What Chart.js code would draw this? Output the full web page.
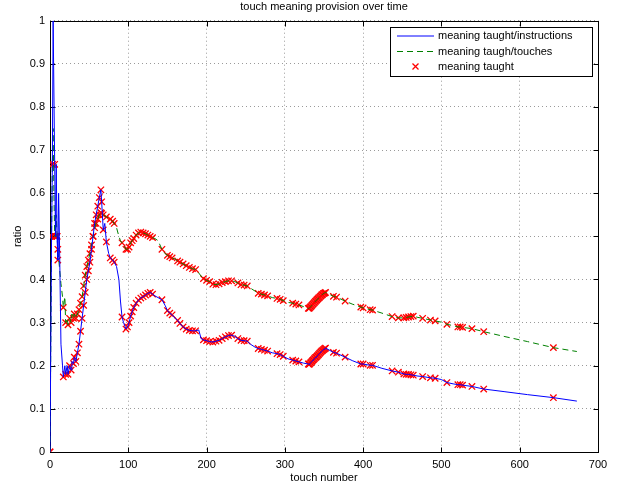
<!DOCTYPE html>
<html>
<head>
<meta charset="utf-8">
<script src="https://cdn.jsdelivr.net/npm/chart.js@4"></script>
<style>
  html, body { margin: 0; padding: 0; background: #fff; }
  #wrap { width: 624px; height: 488px; }
</style>
</head>
<body>
<div id="wrap"><canvas id="ratioChart" width="624" height="488"></canvas></div>
<script>
// touch number (x) and the two ratios
const touchNumber = [
  0, 2, 3, 4, 5, 6, 7, 8, 9, 10, 11, 12, 14, 16, 17, 19, 20, 22, 23, 25, 27, 28, 30, 31,
  33, 35, 37, 39, 41, 43, 45, 47, 49, 51, 53, 55, 57, 59, 61, 63, 65,
  66, 68, 70, 72, 75, 77, 80, 82, 85, 88, 90, 92, 94, 97, 99, 101, 103, 105, 107, 110,
  113, 116, 119, 122, 125, 128, 131, 134, 138, 143, 147, 150, 153, 156, 160, 163, 166,
  170, 174, 178, 182, 186, 190, 193, 196, 200, 204, 208, 212, 216, 220, 224, 228, 232,
  236, 240, 244, 248, 252, 256, 262, 266, 270, 274, 278, 284, 290, 294, 298, 304, 310,
  314, 318, 324,
  330, 331, 332, 333, 334, 335, 336, 337, 338, 339, 340, 341, 342, 343, 344, 345, 346, 347, 348, 349, 350, 351, 352,
  362, 366, 377, 386, 397, 400, 409, 412, 424, 437, 445, 452, 455, 458, 461, 464, 470,
  476, 486, 492, 500, 507, 515, 521, 524, 527, 539, 554, 580, 610, 643, 673
];
const perInstruction = [
  0, 0.5, 0.667, 1.0, 1.0, 0.667, 0.5, 0.667, 0.5, 0.445, 0.6, 0.5, 0.25, 0.2, 0.174, 0.2, 0.18, 0.2, 0.18, 0.2, 0.19, 0.21, 0.205, 0.22,
  0.21, 0.23, 0.25, 0.28, 0.31, 0.34, 0.37, 0.40, 0.42, 0.44, 0.47, 0.5, 0.53, 0.55, 0.57, 0.59, 0.608,
  0.58, 0.515, 0.53, 0.487, 0.46, 0.45, 0.445, 0.44, 0.43, 0.40, 0.35, 0.313, 0.30, 0.285, 0.29, 0.3, 0.315, 0.325, 0.335, 0.345,
  0.352, 0.357, 0.36, 0.364, 0.368, 0.37, 0.366, 0.362, 0.358, 0.353, 0.34, 0.328, 0.322, 0.318, 0.31, 0.305, 0.298,
  0.29, 0.285, 0.282, 0.281, 0.281, 0.283, 0.263, 0.26, 0.258, 0.256, 0.255, 0.257, 0.259, 0.263, 0.267, 0.27, 0.271,
  0.268, 0.263, 0.259, 0.258, 0.257, 0.25, 0.243, 0.24, 0.238, 0.236, 0.234, 0.23, 0.228, 0.226, 0.222, 0.216, 0.213,
  0.211, 0.209, 0.206,
  0.204, 0.203, 0.205, 0.207, 0.209, 0.211, 0.213, 0.215, 0.217, 0.219, 0.22, 0.222, 0.224, 0.226, 0.228, 0.23, 0.232, 0.234, 0.235, 0.237, 0.238, 0.24, 0.241,
  0.231, 0.229, 0.22, 0.212, 0.204, 0.204, 0.201, 0.201, 0.194, 0.188, 0.185, 0.181, 0.18, 0.18, 0.179, 0.178, 0.176,
  0.175, 0.172, 0.171, 0.168, 0.161, 0.158, 0.156, 0.156, 0.155, 0.152, 0.146, 0.14, 0.133, 0.126, 0.118
];
const perTouch = [
  0, 0.5, 0.667, 0.75, 0.6, 0.5, 0.5, 0.55, 0.5, 0.47, 0.45, 0.43, 0.39, 0.36, 0.335, 0.36, 0.3, 0.31, 0.295, 0.31, 0.30, 0.32, 0.31, 0.32,
  0.31, 0.32, 0.33, 0.345, 0.36, 0.385, 0.41, 0.43, 0.445, 0.46, 0.48, 0.5, 0.52, 0.53, 0.54, 0.55, 0.555,
  0.553, 0.55, 0.548, 0.545, 0.543, 0.54, 0.535, 0.53, 0.52, 0.50, 0.49, 0.485, 0.48, 0.47, 0.47, 0.475, 0.485, 0.49, 0.495, 0.503,
  0.508, 0.51, 0.508, 0.506, 0.503, 0.5, 0.497, 0.495, 0.49, 0.47, 0.46, 0.456, 0.453, 0.45, 0.447, 0.443, 0.44,
  0.436, 0.432, 0.428, 0.425, 0.423, 0.415, 0.408, 0.402, 0.398, 0.395, 0.389, 0.388, 0.39, 0.393, 0.395, 0.397, 0.397,
  0.395, 0.392, 0.388, 0.387, 0.385, 0.38, 0.373, 0.368, 0.366, 0.364, 0.362, 0.358, 0.356, 0.354, 0.351, 0.347, 0.345,
  0.343, 0.341, 0.337,
  0.333, 0.333, 0.335, 0.337, 0.339, 0.341, 0.343, 0.345, 0.347, 0.349, 0.351, 0.353, 0.355, 0.357, 0.358, 0.36, 0.362, 0.364, 0.365, 0.367, 0.368, 0.369, 0.37,
  0.361, 0.359, 0.35, 0.343, 0.336, 0.334, 0.33, 0.329, 0.322, 0.314, 0.311, 0.311, 0.312, 0.313, 0.314, 0.315, 0.312,
  0.31, 0.306, 0.304, 0.301, 0.296, 0.293, 0.29, 0.29, 0.289, 0.286, 0.279, 0.268, 0.256, 0.242, 0.233
];
// 1 where meaning was taught at that touch (red x on both curves)
const taught = [
  1, 1, 1, 0, 0, 1, 1, 0, 1, 1, 0, 0, 0, 0, 1, 0, 1, 0, 1, 1, 1, 0, 1, 1,
  1, 1, 1, 1, 1, 1, 1, 1, 1, 1, 1, 1, 1, 1, 1, 1, 1,
  1, 1, 0, 1, 0, 1, 1, 1, 0, 0, 0, 1, 0, 1, 1, 1, 1, 1, 1, 1,
  1, 1, 1, 1, 1, 1, 1, 0, 0, 1, 0, 1, 1, 1, 0, 1, 1,
  1, 1, 1, 1, 1, 0, 0, 1, 1, 1, 1, 1, 1, 1, 1, 1, 1,
  0, 1, 1, 1, 1, 0, 0, 1, 1, 1, 1, 0, 1, 1, 1, 0, 1,
  1, 1, 0,
  1, 1, 1, 1, 1, 1, 1, 1, 1, 1, 1, 1, 1, 1, 1, 1, 1, 1, 1, 1, 1, 1, 1,
  1, 1, 1, 0, 1, 1, 1, 1, 0, 1, 1, 1, 1, 1, 1, 1, 0,
  1, 1, 1, 0, 1, 0, 1, 1, 1, 1, 1, 0, 0, 1, 0
];

const seriesNames = ['meaning taught/instructions', 'meaning taugh/touches', 'meaning taught'];
const chartTitle = 'touch meaning provision over time';
const xLabel = 'touch number';
const yLabel = 'ratio';

document.addEventListener('DOMContentLoaded', function() {
    Chart.defaults.font.family = '"Liberation Sans", Arial, sans-serif';
    Chart.defaults.font.size = 11;
    Chart.defaults.color = '#000';

    const instrPoints = touchNumber.map((x, i) => ({ x: x, y: perInstruction[i] }));
    const touchPoints = touchNumber.map((x, i) => ({ x: x, y: perTouch[i] }));
    const taughtPoints = [];
    touchNumber.forEach((x, i) => {
        if (taught[i]) {
            taughtPoints.push({ x: x, y: perInstruction[i] });
            taughtPoints.push({ x: x, y: perTouch[i] });
        }
    });

    //ramka osi + legenda w stylu matlaba
    const matlabFrame = {
        id: 'matlabFrame',
        beforeDatasetsDraw(chart) {
            const { ctx, chartArea: a, scales } = chart;
            const L = Math.round(a.left) + 0.5, R = Math.round(a.right) + 0.5;
            const T = Math.round(a.top) + 0.5, B = Math.round(a.bottom) + 0.5;
            ctx.save();
            ctx.strokeStyle = '#000';
            ctx.lineWidth = 1;
            ctx.beginPath();
            scales.x.ticks.forEach(t => {
                const px = Math.round(scales.x.getPixelForValue(t.value)) + 0.5;
                ctx.moveTo(px, B); ctx.lineTo(px, B - 5);
                ctx.moveTo(px, T); ctx.lineTo(px, T + 5);
            });
            scales.y.ticks.forEach(t => {
                const py = Math.round(scales.y.getPixelForValue(t.value)) + 0.5;
                ctx.moveTo(L, py); ctx.lineTo(L + 5, py);
                ctx.moveTo(R, py); ctx.lineTo(R - 5, py);
            });
            ctx.stroke();
            ctx.strokeRect(L, T, R - L, B - T);
            ctx.restore();
        },
        afterDraw(chart) {
            const ctx = chart.ctx;
            const bx = 390.5, by = 27.5, bw = 202, bh = 49;
            ctx.save();
            ctx.fillStyle = '#fff';
            ctx.fillRect(bx, by, bw, bh);
            ctx.strokeStyle = '#000';
            ctx.lineWidth = 1;
            ctx.strokeRect(bx, by, bw, bh);

            const rows = [36, 51.5, 66.5];
            const ds = chart.data.datasets;
            // blue solid
            ctx.strokeStyle = ds[0].borderColor;
            ctx.beginPath(); ctx.moveTo(397, rows[0]); ctx.lineTo(434, rows[0]); ctx.stroke();
            // green dashed
            ctx.strokeStyle = ds[1].borderColor;
            ctx.setLineDash(ds[1].borderDash);
            ctx.beginPath(); ctx.moveTo(397, rows[1]); ctx.lineTo(434, rows[1]); ctx.stroke();
            ctx.setLineDash([]);
            // red x
            ctx.strokeStyle = '#ff0000';
            ctx.lineWidth = 1.3;
            ctx.beginPath();
            ctx.moveTo(412.5, rows[2] - 3); ctx.lineTo(418.5, rows[2] + 3);
            ctx.moveTo(418.5, rows[2] - 3); ctx.lineTo(412.5, rows[2] + 3);
            ctx.stroke();

            ctx.fillStyle = '#000';
            ctx.font = '11px "Liberation Sans", Arial, sans-serif';
            ctx.textBaseline = 'middle';
            ctx.textAlign = 'left';
            seriesNames.forEach((name, i) => ctx.fillText(name, 438, rows[i]));
            ctx.restore();
        }
    };

    new Chart(document.getElementById('ratioChart'), {
        type: 'line',
        data: {
            datasets: [
                {
                    label: seriesNames[0],
                    data: instrPoints,
                    borderColor: '#0000ff',
                    borderWidth: 1,
                    pointRadius: 0,
                    tension: 0,
                    fill: false
                },
                {
                    label: seriesNames[1],
                    data: touchPoints,
                    borderColor: '#008000',
                    borderWidth: 1,
                    borderDash: [6, 4],
                    pointRadius: 0,
                    tension: 0,
                    fill: false
                },
                {
                    label: seriesNames[2],
                    data: taughtPoints,
                    showLine: false,
                    borderColor: '#ff0000',
                    backgroundColor: '#ff0000',
                    pointStyle: 'crossRot',
                    pointRadius: 4.5,
                    pointBorderWidth: 1.3
                }
            ]
        },
        options: {
            responsive: false,
            animation: false,
            devicePixelRatio: 1,
            layout: { padding: { left: 0, right: 26, top: 0, bottom: 0 } },
            plugins: {
                legend: { display: false },
                tooltip: { enabled: false },
                title: {
                    display: true,
                    text: chartTitle,
                    fullSize: false,
                    font: { size: 11, weight: 'normal' },
                    color: '#000',
                    padding: { top: 0, bottom: 7.5 }
                }
            },
            scales: {
                x: {
                    type: 'linear',
                    min: 0,
                    max: 700,
                    ticks: { stepSize: 100, padding: 6, maxRotation: 0, color: '#000' },
                    grid: { color: '#9a9a9a', drawTicks: false, lineWidth: 1 },
                    border: { display: false, dash: [1, 3] },
                    title: { display: true, text: xLabel, padding: { top: 0, bottom: 3.4 } },
                    afterFit: (scale) => { scale.height = 36; }
                },
                y: {
                    type: 'linear',
                    min: 0,
                    max: 1,
                    ticks: {
                        stepSize: 0.1,
                        padding: 5,
                        color: '#000',
                        callback: (v) => String(Number(v.toFixed(1)))
                    },
                    grid: { color: '#9a9a9a', drawTicks: false, lineWidth: 1 },
                    border: { display: false, dash: [1, 3] },
                    title: { display: true, text: yLabel, padding: { top: 11, bottom: 0 } },
                    afterFit: (scale) => { scale.width = 50; }
                }
            }
        },
        plugins: [matlabFrame]
    });
});
</script>
</body>
</html>
